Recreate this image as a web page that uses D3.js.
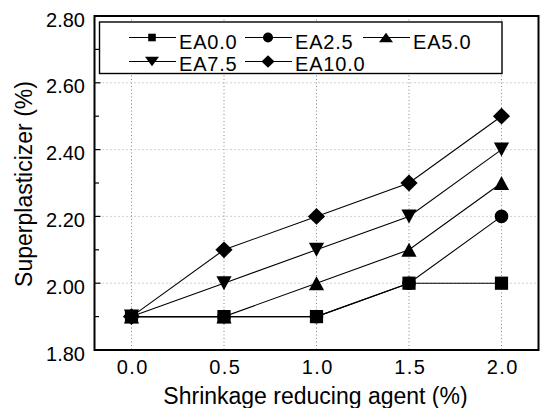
<!DOCTYPE html>
<html><head><meta charset="utf-8">
<script src="https://cdn.jsdelivr.net/npm/d3@7"></script>
<style>body{margin:0;background:#fff}svg{display:block}text{font-family:"Liberation Sans",Arial,sans-serif;fill:#000}</style>
</head><body><svg id="c" width="541" height="408"></svg>
<script>
const xValues = [0.0, 0.5, 1.0, 1.5, 2.0];
const seriesNames = ["EA0.0", "EA2.5", "EA5.0", "EA7.5", "EA10.0"];
const seriesSymbols = ["square", "circle", "triangle", "triangleDown", "diamond"];
const ea00 = [1.9, 1.9, 1.9, 2.0, 2.0];
const ea25 = [1.9, 1.9, 1.9, 2.0, 2.2];
const ea50 = [1.9, 1.9, 2.0, 2.1, 2.3];
const ea75 = [1.9, 2.0, 2.1, 2.2, 2.4];
const ea100 = [1.9, 2.1, 2.2, 2.3, 2.5];
const seriesValues = [ea00, ea25, ea50, ea75, ea100];
const xTicks = [0.0, 0.5, 1.0, 1.5, 2.0];
const yTicks = [1.8, 2.0, 2.2, 2.4, 2.6, 2.8];
const yMinor = [1.9, 2.1, 2.3, 2.5, 2.7];

const svg = d3.select("#c");
const L = 94.5, R = 538.5, T = 16, B = 350;
const x = d3.scaleLinear().domain([-0.2, 2.2]).range([L, R]);
const y = d3.scaleLinear().domain([1.8, 2.8]).range([B, T]);

// grid
const g = svg.append("g");
g.selectAll("line.gx").data(xTicks).join("line")
  .attr("x1", d => x(d)).attr("x2", d => x(d)).attr("y1", T).attr("y2", B)
  .attr("stroke", "#777").attr("stroke-width", 0.9).attr("stroke-dasharray", "1,2.5");
g.selectAll("line.gy").data(yTicks.slice(1, -1)).join("line")
  .attr("y1", d => y(d)).attr("y2", d => y(d)).attr("x1", L).attr("x2", R)
  .attr("stroke", "#999").attr("stroke-width", 0.9).attr("stroke-dasharray", "1,3");

// axes
const yAxis = d3.axisLeft(y).tickValues(yTicks).tickFormat(d3.format(".2f")).tickSize(0).tickPadding(9.5);
const ya = svg.append("g").attr("transform", `translate(${L},0)`).call(yAxis);
ya.selectAll("text").style("font-size", "20px").attr("dy", "0.5em");
ya.select(".domain").remove();
svg.append("g").selectAll("line").data(yTicks).join("line")
  .attr("x1", L).attr("x2", L + 6).attr("y1", d => y(d)).attr("y2", d => y(d)).attr("stroke", "#000").attr("stroke-width", 1.2);
svg.append("g").selectAll("line").data(yMinor).join("line")
  .attr("x1", L).attr("x2", L + 4.5).attr("y1", d => y(d)).attr("y2", d => y(d)).attr("stroke", "#000").attr("stroke-width", 1.2);

const xAxis = d3.axisBottom(x).tickValues(xTicks).tickFormat(d3.format(".1f")).tickSize(0).tickPadding(10);
const xa = svg.append("g").attr("transform", `translate(0,${B})`).call(xAxis);
xa.select(".domain").remove();
xa.selectAll("text").style("font-size", "20px").style("letter-spacing", "1.4px").attr("dx", "0.7px");

svg.append("rect").attr("x", L).attr("y", T).attr("width", R - L).attr("height", B - T)
  .attr("fill", "none").attr("stroke", "#000").attr("stroke-width", 2);

svg.append("text").attr("x", 315.5).attr("y", 404).attr("text-anchor", "middle")
  .style("font-size", "23px").text("Shrinkage reducing agent (%)");
svg.append("text").attr("transform", `translate(32,${(T + B) / 2 + 1}) rotate(-90)`).attr("text-anchor", "middle")
  .style("font-size", "23px").text("Superplasticizer (%)");

function markerPath(name, sc) {
  const p = d3.path();
  const s = sc;
  if (name === "square") { const h = s.sq; p.rect(-h, -h, 2 * h, 2 * h); }
  else if (name === "circle") { p.arc(0, 0, s.ci, 0, 2 * Math.PI); }
  else if (name === "triangle") { const w = s.tw, hh = s.th; p.moveTo(0, -hh); p.lineTo(w, hh); p.lineTo(-w, hh); p.closePath(); }
  else if (name === "triangleDown") { const w = s.tw, hh = s.th; p.moveTo(0, hh); p.lineTo(w, -hh); p.lineTo(-w, -hh); p.closePath(); }
  else if (name === "diamond") { const w = s.dw, hh = s.dh; p.moveTo(0, -hh); p.lineTo(w, 0); p.lineTo(0, hh); p.lineTo(-w, 0); p.closePath(); }
  return p.toString();
}
const bigM = {sq: 6.6, ci: 6.8, tw: 7.6, th: 7, dw: 8.6, dh: 8.4};
const smallM = {sq: 3.8, ci: 5, tw: 7, th: 4.8, dw: 6.5, dh: 6.2};
function drawMarker(sel, name, cx, cy, s) {
  sel.append("path").attr("d", markerPath(name, s)).attr("transform", `translate(${cx},${cy})`).attr("fill", "#000");
}

const line = d3.line().x((d, i) => x(xValues[i])).y(d => y(d));
seriesValues.forEach((vals) => {
  svg.append("path").datum(vals).attr("d", line).attr("fill", "none").attr("stroke", "#000").attr("stroke-width", 1.1);
});
seriesValues.forEach((vals, k) => {
  const gg = svg.append("g");
  vals.forEach((v, i) => drawMarker(gg, seriesSymbols[k], x(xValues[i]), y(v), bigM));
});

// legend
const lg = svg.append("g");
lg.append("rect").attr("x", 99.5).attr("y", 22).attr("width", 402.5).attr("height", 51.5)
  .attr("fill", "#fff").attr("stroke", "#000").attr("stroke-width", 1.4);
const legPos = [[129, 37.5, 48.5], [245, 37.5, 48.5], [363, 37.5, 48.5], [129, 61.5, 70.5], [245, 61.5, 70.5]];
seriesNames.forEach((n, k) => {
  const [lx, ly, tb] = legPos[k];
  lg.append("line").attr("x1", lx).attr("x2", lx + 47).attr("y1", ly).attr("y2", ly).attr("stroke", "#000").attr("stroke-width", 1.1);
  drawMarker(lg, seriesSymbols[k], lx + 23, ly, smallM);
  lg.append("text").attr("x", lx + 50).attr("y", tb).style("font-size", "20px").style("letter-spacing", "0.8px").text(n);
});
</script></body></html>
